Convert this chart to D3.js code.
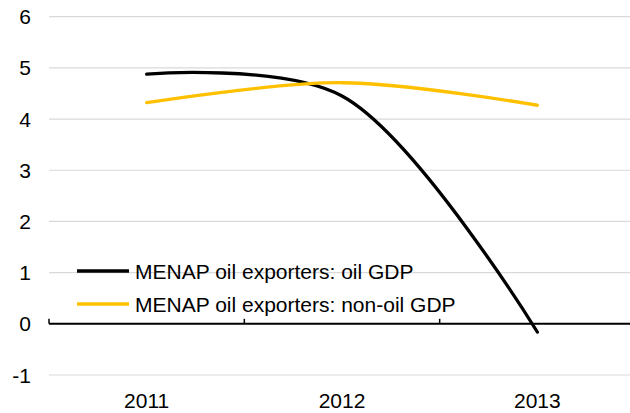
<!DOCTYPE html>
<html><head><meta charset="utf-8">
<script src="https://cdn.jsdelivr.net/npm/d3@7"></script>
<style>body{margin:0;background:#fff}svg{display:block;font-family:"Liberation Sans",Arial,sans-serif}</style>
</head><body>
<svg id="c" width="630" height="413"></svg>
<script>
const categories = ["2011", "2012", "2013"];
const oilGDP = [4.88, 4.45, -0.16];
const nonOilGDP = [4.32, 4.71, 4.27];
const yTicks = [-1, 0, 1, 2, 3, 4, 5, 6];
const seriesNames = ["MENAP oil exporters: oil GDP", "MENAP oil exporters: non-oil GDP"];
const seriesColors = ["#000000", "#FFC000"];

const svg = d3.select("#c");
const x = d3.scaleBand().domain(categories).range([49, 635]);
const y = d3.scaleLinear().domain([-1, 6]).range([375, 16.7]);

// gridlines
svg.append("g").selectAll("line").data(yTicks.filter(d => d !== 0)).join("line")
  .attr("x1", 49).attr("x2", 635).attr("y1", d => y(d)).attr("y2", d => y(d))
  .attr("stroke", "#d9d9d9").attr("stroke-width", 1.2);

// y labels
svg.append("g").selectAll("text").data(yTicks).join("text")
  .attr("x", 31).attr("y", d => y(d) + 7.5).attr("text-anchor", "end")
  .attr("font-size", 21).attr("fill", "#000").text(d => d);

// x labels
svg.append("g").selectAll("text").data(categories).join("text")
  .attr("x", d => x(d) + x.bandwidth() / 2).attr("y", 408).attr("text-anchor", "middle")
  .attr("font-size", 21).attr("fill", "#000").text(d => d);

// zero axis
svg.append("line").attr("x1", 49).attr("x2", 635).attr("y1", y(0)).attr("y2", y(0))
  .attr("stroke", "#000").attr("stroke-width", 2);
const bounds = categories.map(c => x(c)).concat([x.range()[1]]);
svg.append("g").selectAll("line").data(bounds).join("line")
  .attr("x1", d => d).attr("x2", d => d).attr("y1", y(0)).attr("y2", y(0) - 5)
  .attr("stroke", "#000").attr("stroke-width", 1.5);

const line = d3.line()
  .x((d, i) => x(categories[i]) + x.bandwidth() / 2)
  .y(d => y(d))
  .curve(d3.curveCatmullRom.alpha(0.5));

[oilGDP, nonOilGDP].forEach((s, k) => {
  svg.append("path").attr("d", line(s)).attr("fill", "none")
    .attr("stroke", seriesColors[k]).attr("stroke-width", 3.3).attr("stroke-linecap", "round");
});

// legend
seriesNames.forEach((n, k) => {
  const ly = 271 + k * 33;
  svg.append("line").attr("x1", 77).attr("x2", 129).attr("y1", ly).attr("y2", ly)
    .attr("stroke", seriesColors[k]).attr("stroke-width", 3.3);
  svg.append("text").attr("x", 135).attr("y", ly + 7.5).attr("font-size", 21)
    .attr("fill", "#000").text(n);
});
</script>
</body></html>
